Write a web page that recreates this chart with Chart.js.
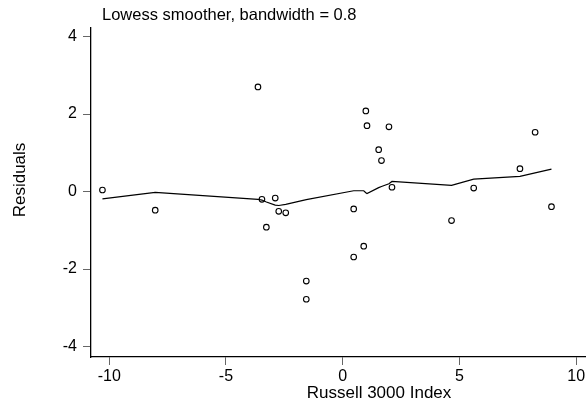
<!DOCTYPE html>
<html>
<head>
<meta charset="utf-8">
<script src="https://cdn.jsdelivr.net/npm/chart.js@4/dist/chart.umd.min.js"></script>
<style>
  html, body { margin: 0; padding: 0; background: #fff; overflow: hidden; }
  #wrap { width: 600px; height: 404px; }
</style>
</head>
<body>
<div id="wrap"><canvas id="residChart" width="600" height="404"></canvas></div>
<script>
// residuals vs Russell 3000 Index
const residX = [-10.29, -8.03, -3.63, -3.46, -2.89, -3.27, -2.74, -2.44, -1.56, -1.56,
                0.47, 0.47, 0.90, 0.99, 1.04, 1.54, 1.66, 1.98, 2.11, 4.66, 5.61, 7.59, 8.24, 8.94];
const residY = [0.04, -0.48, 2.70, -0.20, -0.17, -0.92, -0.51, -0.55, -2.31, -2.78,
                -0.45, -1.69, -1.41, 2.08, 1.70, 1.08, 0.80, 1.67, 0.11, -0.75, 0.09, 0.59, 1.53, -0.39];

// lowess fit, one value per sorted x
const lowessX = [-10.29, -8.03, -3.63, -3.46, -3.27, -2.89, -2.74, -2.44, -1.56,
                 0.47, 0.90, 0.99, 1.04, 1.54, 1.66, 1.98, 2.11, 4.66, 5.61, 7.59, 8.24, 8.94];
const lowessY = [-0.19, -0.02, -0.20, -0.22, -0.27, -0.35, -0.36, -0.33, -0.21,
                 0.02, 0.02, -0.03, -0.05, 0.10, 0.13, 0.20, 0.26, 0.16, 0.32, 0.39, 0.48, 0.58];

const xTicks = [-10, -5, 0, 5, 10];
const yTicks = [-4, -2, 0, 2, 4];

const chartTitle = 'Lowess smoother, bandwidth = 0.8';
const xTitle = 'Russell 3000 Index';
const yTitle = 'Residuals';

const FONT = "'Liberation Sans', Arial, sans-serif";

const textPlugin = {
    id: 'stataText',
    afterDraw(chart) {
        const ctx = chart.ctx;
        ctx.save();
        ctx.fillStyle = '#000';
        ctx.textBaseline = 'alphabetic';
        ctx.textAlign = 'left';
        ctx.font = '16.5px ' + FONT;
        ctx.fillText(chartTitle, 102, 20);

        ctx.font = '17px ' + FONT;
        ctx.textAlign = 'center';
        ctx.fillText(xTitle, 379, 398);

        ctx.translate(25, 180);
        ctx.rotate(-Math.PI / 2);
        ctx.fillText(yTitle, 0, 0);
        ctx.restore();
    }
};

const points = residX.map((x, i) => ({ x: x, y: residY[i] }));
const fitLine = lowessX.map((x, i) => ({ x: x, y: lowessY[i] }));

const axisStyle = {
    border: { display: true, color: '#000', width: 1.3 },
    grid: { display: true, drawOnChartArea: false, drawTicks: true, tickLength: 8, color: '#666', lineWidth: 1 },
};

new Chart(document.getElementById('residChart').getContext('2d'), {
    type: 'scatter',
    data: {
        datasets: [{
            label: 'Residuals',
            data: points,
            pointStyle: 'circle',
            pointRadius: 2.8,
            pointBorderWidth: 1.1,
            pointBorderColor: '#000',
            pointBackgroundColor: '#fff',
            order: 2
        }, {
            label: 'Lowess',
            data: fitLine,
            showLine: true,
            borderColor: '#000',
            borderWidth: 1.2,
            pointRadius: 0,
            tension: 0,
            order: 1
        }]
    },
    options: {
        responsive: false,
        animation: false,
        layout: { padding: { left: 0, top: 28, right: 5, bottom: 0 } },
        plugins: {
            legend: { display: false },
            tooltip: { enabled: false }
        },
        scales: {
            x: {
                ...axisStyle,
                type: 'linear',
                min: -10.78,
                max: 10.8,
                afterBuildTicks: (scale) => { scale.ticks = xTicks.map(v => ({ value: v })); },
                afterFit: (scale) => { scale.height = 47; },
                ticks: { color: '#000', font: { family: FONT, size: 16 }, padding: 2, maxRotation: 0 }
            },
            y: {
                ...axisStyle,
                type: 'linear',
                min: -4.27,
                max: 4.22,
                afterBuildTicks: (scale) => { scale.ticks = yTicks.map(v => ({ value: v })); },
                afterFit: (scale) => { scale.width = 91; },
                ticks: { color: '#000', font: { family: FONT, size: 16 }, padding: 6 }
            }
        }
    },
    plugins: [textPlugin]
});
</script>
</body>
</html>
